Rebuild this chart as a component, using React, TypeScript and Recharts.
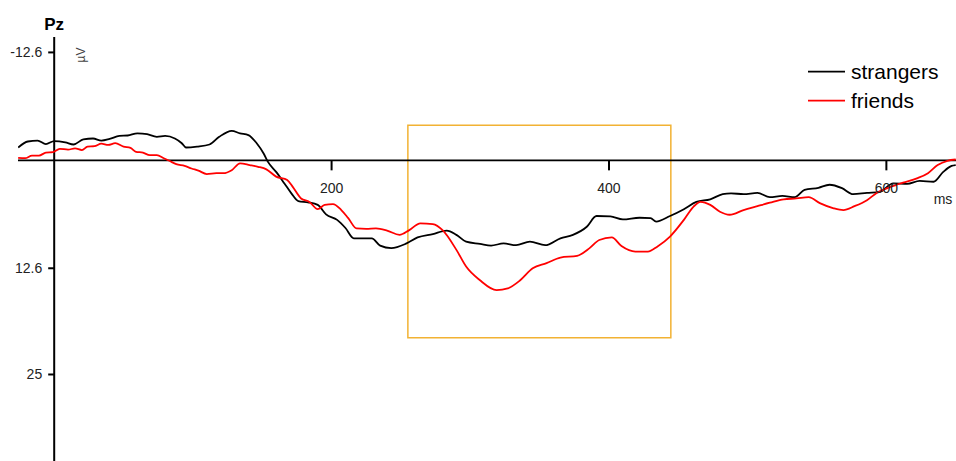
import { LineChart, Line, XAxis, YAxis, ReferenceLine, ReferenceArea, ReferenceDot, Legend } from "recharts";

// Pz grand average, time in ms, amplitude in µV (negative up)
const STRANGERS_MS = [
  -26, -19, -12, -6, 0, 8, 14, 21, 28, 34, 40, 47, 53, 60, 67, 74, 80, 87, 92, 95, 103, 112, 119, 128, 134, 140,
  146, 151, 154, 160, 166, 171, 176, 183, 190, 196, 204, 210, 216, 223, 229, 235, 243, 254, 262, 273, 283, 290,
  297, 307, 315, 324, 333, 343, 354, 365, 374, 384, 391, 401, 410, 422, 430, 434, 444, 454, 463, 473, 482, 488,
  497, 507, 516, 525, 534, 541, 551, 559, 568, 576, 586, 595, 605, 615, 624, 634, 641, 647, 650,
];
const STRANGERS_UV = [
  -1.5, -2.2, -2.3, -1.9, -2.25, -2.1, -1.85, -2.45, -2.55, -2.3, -2.5, -2.85, -2.9, -3.15, -3.05, -2.75, -2.85,
  -2.55, -2.0, -1.5, -1.6, -1.85, -2.75, -3.45, -3.15, -2.95, -2.0, -0.8, 0.15, 1.35, 2.7, 3.85, 4.75, 4.9, 5.2,
  6.3, 6.95, 7.9, 9.1, 9.1, 9.1, 9.95, 10.25, 9.7, 9.0, 8.6, 8.2, 8.7, 9.5, 9.75, 9.95, 9.7, 9.9, 9.5, 9.9, 9.1,
  8.7, 7.75, 6.5, 6.55, 6.9, 6.7, 6.75, 7.15, 6.5, 5.7, 4.85, 4.55, 3.95, 3.85, 3.95, 3.8, 4.3, 4.15, 4.3, 3.45,
  3.2, 2.85, 3.25, 3.95, 3.8, 3.7, 2.7, 2.75, 2.4, 2.5, 1.35, 0.65, 0.55,
];

const FRIENDS_MS = [
  -26, -21, -16, -11, -6, -1, 4, 10, 15, 20, 24, 29, 34, 39, 44, 50, 55, 59, 64, 69, 74, 79, 83, 88, 94, 99, 104,
  110, 117, 122, 128, 134, 141, 147, 153, 160, 168, 172, 178, 184, 190, 195, 201, 207, 212, 218, 225, 232, 240,
  249, 256, 264, 273, 280, 290, 297, 307, 319, 327, 336, 345, 355, 365, 377, 386, 393, 402, 409, 419, 428, 435,
  444, 454, 461, 466, 473, 480, 487, 497, 507, 516, 526, 535, 544, 552, 562, 569, 577, 586, 593, 603, 612, 622,
  630, 637, 644, 650,
];
const FRIENDS_UV = [
  -0.3, -0.25, -0.55, -0.55, -0.9, -0.95, -1.35, -1.25, -1.4, -1.2, -1.6, -1.65, -1.95, -1.8, -2.0, -1.6, -1.45,
  -1.0, -0.9, -0.6, -0.6, -0.25, 0.05, 0.45, 0.65, 0.95, 1.2, 1.6, 1.5, 1.5, 1.15, 0.35, 0.55, 0.75, 1.05, 1.9,
  2.3, 3.1, 4.45, 4.85, 5.7, 5.2, 5.1, 5.8, 6.75, 7.95, 8.0, 7.95, 8.2, 8.7, 8.15, 7.35, 7.45, 8.15, 10.45, 12.4,
  14.0, 15.15, 14.95, 14.0, 12.6, 12.0, 11.35, 11.15, 10.25, 9.3, 9.0, 10.0, 10.65, 10.65, 10.05, 8.9, 6.95, 5.4,
  4.85, 5.2, 6.0, 6.35, 5.8, 5.35, 4.95, 4.55, 4.45, 4.3, 5.0, 5.6, 5.8, 5.35, 4.65, 3.8, 3.1, 2.6, 2.1, 1.5,
  0.55, 0.05, -0.1,
];

const X_TICKS = [200, 400, 600];
const Y_TICKS = [-12.6, 12.6, 25];
const X_DOMAIN = [-26.1, 650.2];
const Y_DOMAIN = [-14.4, 35.1];
// analysis window: 255–445 ms
const WINDOW = { x1: 255, x2: 444.6, y1: -4.1, y2: 20.7 };

const FONT = "'Liberation Sans', Arial, sans-serif";

const strangers = STRANGERS_MS.map((t, i) => ({ t, uv: STRANGERS_UV[i] }));
const friends = FRIENDS_MS.map((t, i) => ({ t, uv: FRIENDS_UV[i] }));

const SERIES = [
  { name: "strangers", color: "#000000", data: strangers },
  { name: "friends", color: "#ff0000", data: friends },
];

function LegendBox() {
  return (
    <svg width={150} height={60} style={{ display: "block" }}>
      {SERIES.map((s, i) => (
        <g key={s.name}>
          <line x1={8} x2={45} y1={16.7 + i * 29} y2={16.7 + i * 29} stroke={s.color} strokeWidth={1.8} />
          <text x={51} y={16.7 + i * 29} dy="0.36em" fontSize={21} fontFamily={FONT} fill="#000">
            {s.name}
          </text>
        </g>
      ))}
    </svg>
  );
}

export default function App() {
  return (
    <div style={{ position: "absolute", left: 0, top: 0, background: "#fff" }}>
      <LineChart width={956} height={461} margin={{ top: 37, right: 0, bottom: 0, left: 18 }}>
        <XAxis type="number" dataKey="t" domain={X_DOMAIN} allowDataOverflow hide />
        <YAxis type="number" domain={Y_DOMAIN} reversed allowDataOverflow hide />

        <ReferenceArea
          x1={WINDOW.x1}
          x2={WINDOW.x2}
          y1={WINDOW.y1}
          y2={WINDOW.y2}
          fill="none"
          stroke="#f2b233"
          strokeWidth={1.5}
          ifOverflow="visible"
        />
        <ReferenceLine y={0} stroke="#000" strokeWidth={1.8} />
        <ReferenceLine x={0} stroke="#000" strokeWidth={2} />

        {Y_TICKS.map((v) => (
          <ReferenceDot
            key={`y${v}`}
            x={0}
            y={v}
            ifOverflow="visible"
            shape={(p: any) => (
              <g>
                <line x1={p.cx - 6} x2={p.cx} y1={p.cy} y2={p.cy} stroke="#000" strokeWidth={2} />
                <text x={p.cx - 12} y={p.cy + 5} textAnchor="end" fontSize={14} fontFamily={FONT} fill="#222">
                  {v}
                </text>
              </g>
            )}
          />
        ))}
        {X_TICKS.map((v) => (
          <ReferenceDot
            key={`x${v}`}
            x={v}
            y={0}
            ifOverflow="visible"
            shape={(p: any) => (
              <g>
                <line x1={p.cx} x2={p.cx} y1={p.cy} y2={p.cy + 10} stroke="#000" strokeWidth={2} />
                <text x={p.cx} y={p.cy + 33} textAnchor="middle" fontSize={14} fontFamily={FONT} fill="#222">
                  {v}
                </text>
              </g>
            )}
          />
        ))}

        {/* channel name and unit at the top of the amplitude axis */}
        <ReferenceDot
          x={0}
          y={Y_DOMAIN[0]}
          ifOverflow="visible"
          shape={(p: any) => (
            <g fontFamily={FONT}>
              <text x={p.cx} y={p.cy - 7} textAnchor="middle" fontSize={17} fontWeight="bold" fill="#000">
                Pz
              </text>
              <text
                x={p.cx + 31}
                y={p.cy + 18}
                textAnchor="middle"
                fontSize={12}
                fill="#444"
                transform={`rotate(-90 ${p.cx + 31} ${p.cy + 18})`}
              >
                µV
              </text>
            </g>
          )}
        />
        <ReferenceDot
          x={X_DOMAIN[1]}
          y={0}
          ifOverflow="visible"
          shape={(p: any) => (
            <text x={p.cx - 13} y={p.cy + 44} textAnchor="middle" fontSize={14} fontFamily={FONT} fill="#222">
              ms
            </text>
          )}
        />

        {SERIES.map((s) => (
          <Line
            key={s.name}
            data={s.data}
            dataKey="uv"
            name={s.name}
            type="monotone"
            stroke={s.color}
            strokeWidth={1.8}
            dot={false}
            activeDot={false}
            isAnimationActive={false}
          />
        ))}

        {/* centred/middle so the legend reserves no margin; placed by wrapperStyle */}
        <Legend
          layout="vertical"
          align="center"
          verticalAlign="middle"
          content={<LegendBox />}
          wrapperStyle={{ position: "absolute", left: 800, top: 55, width: 150 }}
        />
      </LineChart>
    </div>
  );
}
